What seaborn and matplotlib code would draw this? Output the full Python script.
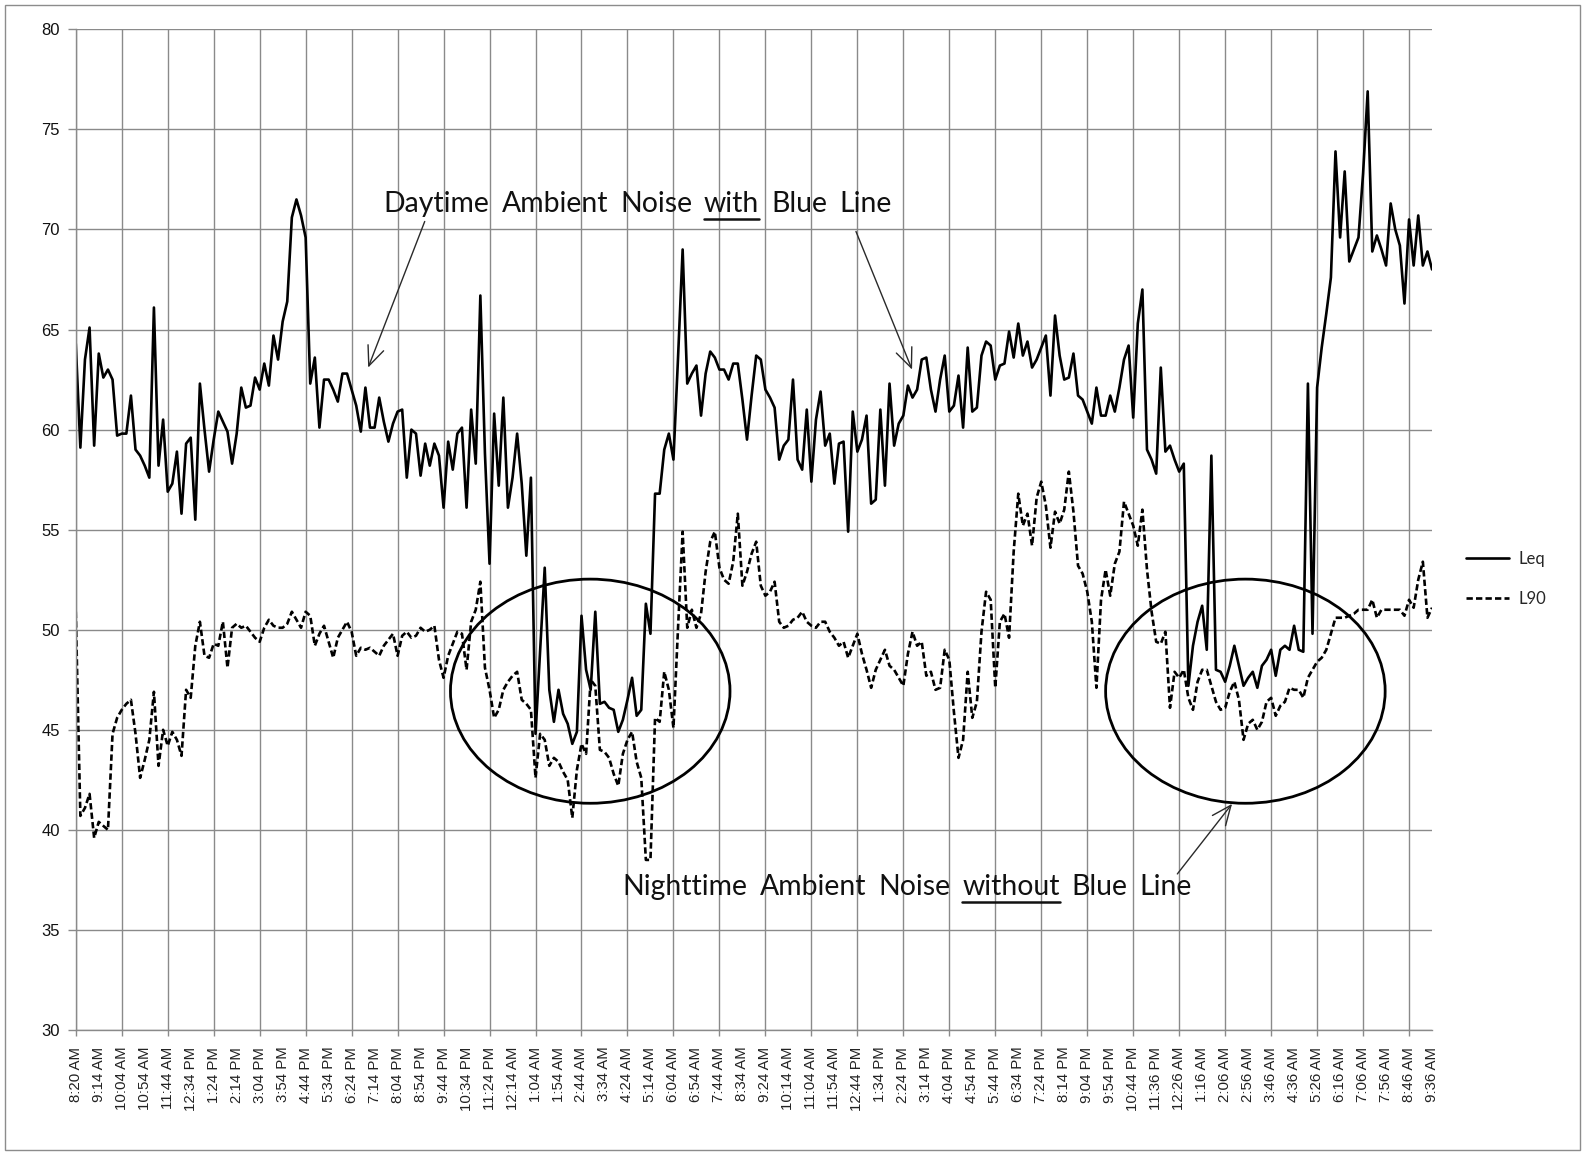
import numpy as np
import pandas as pd
import matplotlib
matplotlib.use("Agg")
import matplotlib.pyplot as plt
import matplotlib.transforms as mtransforms
import seaborn as sns
from matplotlib.patches import Ellipse, Rectangle
from matplotlib.lines import Line2D

# Category labels (one every 5 samples)
time_labels = [
    "8:20 AM", "9:14 AM", "10:04 AM", "10:54 AM", "11:44 AM", "12:34 PM", "1:24 PM", "2:14 PM",
    "3:04 PM", "3:54 PM", "4:44 PM", "5:34 PM", "6:24 PM", "7:14 PM", "8:04 PM", "8:54 PM",
    "9:44 PM", "10:34 PM", "11:24 PM", "12:14 AM", "1:04 AM", "1:54 AM", "2:44 AM", "3:34 AM",
    "4:24 AM", "5:14 AM", "6:04 AM", "6:54 AM", "7:44 AM", "8:34 AM", "9:24 AM", "10:14 AM",
    "11:04 AM", "11:54 AM", "12:44 PM", "1:34 PM", "2:24 PM", "3:14 PM", "4:04 PM", "4:54 PM",
    "5:44 PM", "6:34 PM", "7:24 PM", "8:14 PM", "9:04 PM", "9:54 PM", "10:44 PM", "11:36 PM",
    "12:26 AM", "1:16 AM", "2:06 AM", "2:56 AM", "3:46 AM", "4:36 AM", "5:26 AM", "6:16 AM",
    "7:06 AM", "7:56 AM", "8:46 AM", "9:36 AM",
]

# Equivalent continuous level, dB
leq = [
    64.3, 59.1, 63.5, 65.1, 59.2, 63.8, 62.6, 63.0, 62.5, 59.7,
    59.8, 59.8, 61.7, 59.0, 58.7, 58.2, 57.6, 66.1, 58.2, 60.5,
    56.9, 57.3, 58.9, 55.8, 59.3, 59.6, 55.5, 62.3, 60.0, 57.9,
    59.5, 60.9, 60.4, 59.9, 58.3, 59.8, 62.1, 61.1, 61.2, 62.6,
    62.0, 63.3, 62.2, 64.7, 63.5, 65.4, 66.4, 70.6, 71.5, 70.7,
    69.6, 62.3, 63.6, 60.1, 62.5, 62.5, 62.0, 61.4, 62.8, 62.8,
    62.0, 61.2, 59.9, 62.1, 60.1, 60.1, 61.6, 60.4, 59.4, 60.3,
    60.9, 61.0, 57.6, 60.0, 59.8, 57.7, 59.3, 58.2, 59.3, 58.7,
    56.1, 59.4, 58.0, 59.8, 60.1, 56.1, 61.0, 58.3, 66.7, 58.8,
    53.3, 60.8, 57.2, 61.6, 56.1, 57.6, 59.8, 57.3, 53.7, 57.6,
    44.8, 49.0, 53.1, 47.0, 45.4, 47.0, 45.8, 45.3, 44.3, 44.9,
    50.7, 48.0, 47.0, 50.9, 46.3, 46.4, 46.1, 46.0, 44.9, 45.5,
    46.5, 47.6, 45.7, 46.0, 51.3, 49.8, 56.8, 56.8, 59.0, 59.8,
    58.5, 63.6, 69.0, 62.3, 62.8, 63.2, 60.7, 62.8, 63.9, 63.6,
    63.0, 63.0, 62.5, 63.3, 63.3, 61.5, 59.5, 61.7, 63.7, 63.5,
    62.0, 61.6, 61.1, 58.5, 59.2, 59.5, 62.5, 58.5, 58.0, 61.0,
    57.4, 60.5, 61.9, 59.2, 59.8, 57.3, 59.3, 59.4, 54.9, 60.9,
    58.9, 59.5, 60.7, 56.3, 56.5, 61.0, 57.2, 62.3, 59.2, 60.3,
    60.7, 62.2, 61.6, 62.0, 63.5, 63.6, 62.0, 60.9, 62.5, 63.7,
    60.9, 61.2, 62.7, 60.1, 64.1, 60.9, 61.1, 63.7, 64.4, 64.2,
    62.5, 63.2, 63.3, 64.9, 63.6, 65.3, 63.7, 64.4, 63.1, 63.5,
    64.1, 64.7, 61.7, 65.7, 63.7, 62.5, 62.6, 63.8, 61.7, 61.5,
    60.9, 60.3, 62.1, 60.7, 60.7, 61.7, 60.9, 62.1, 63.5, 64.2,
    60.6, 65.3, 67.0, 59.0, 58.5, 57.8, 63.1, 58.9, 59.2, 58.5,
    57.9, 58.3, 47.2, 49.2, 50.4, 51.2, 49.0, 58.7, 48.0, 47.9,
    47.4, 48.2, 49.2, 48.2, 47.2, 47.6, 47.9, 47.1, 48.2, 48.5,
    49.0, 47.7, 49.0, 49.2, 49.0, 50.2, 49.0, 48.9, 62.3, 49.8,
    62.1, 64.1, 65.8, 67.6, 73.9, 69.6, 72.9, 68.4, 69.0, 69.6,
    72.8, 76.9, 68.9, 69.7, 69.0, 68.2, 71.3, 70.0, 69.2, 66.3,
    70.5, 68.2, 70.7, 68.2, 68.9, 68.0,
]

# Level exceeded 90% of the time, dB
l90 = [
    50.9, 40.7, 41.1, 41.8, 39.6, 40.4, 40.2, 40.0, 44.8, 45.6,
    46.0, 46.3, 46.5, 44.8, 42.6, 43.5, 44.5, 46.9, 43.2, 45.0,
    44.2, 44.9, 44.5, 43.7, 47.0, 46.6, 49.2, 50.4, 48.7, 48.6,
    49.3, 49.2, 50.4, 48.1, 50.1, 50.3, 50.1, 50.2, 49.9, 49.6,
    49.4, 50.1, 50.5, 50.2, 50.1, 50.1, 50.3, 50.9, 50.5, 50.1,
    50.9, 50.7, 49.2, 49.8, 50.2, 49.4, 48.6, 49.6, 50.0, 50.4,
    49.9, 48.7, 49.1, 49.0, 49.1, 48.9, 48.7, 49.2, 49.5, 49.8,
    48.7, 49.7, 49.9, 49.6, 49.7, 50.1, 49.9, 50.0, 50.2, 48.5,
    47.6, 48.7, 49.3, 49.9, 49.8, 48.0, 50.4, 51.0, 52.4, 48.1,
    47.0, 45.6, 46.0, 47.0, 47.4, 47.7, 47.9, 46.5, 46.3, 46.0,
    42.6, 44.8, 44.5, 43.2, 43.6, 43.4, 42.9, 42.5, 40.6, 43.0,
    44.3, 43.8, 47.5, 47.2, 44.0, 43.9, 43.6, 42.8, 42.2, 43.8,
    44.5, 44.9, 43.4, 42.6, 38.5, 38.5, 45.6, 45.4, 47.9, 47.0,
    45.1, 50.1, 54.9, 50.1, 51.0, 50.1, 50.8, 52.9, 54.4, 54.9,
    53.1, 52.5, 52.3, 53.4, 55.8, 52.2, 52.9, 53.8, 54.4, 52.2,
    51.7, 51.9, 52.4, 50.4, 50.1, 50.2, 50.5, 50.6, 50.9, 50.4,
    50.2, 50.1, 50.4, 50.4, 49.9, 49.6, 49.2, 49.4, 48.6, 49.2,
    49.8, 48.8, 48.0, 47.1, 48.0, 48.5, 49.0, 48.2, 48.0, 47.6,
    47.2, 48.8, 49.9, 49.2, 49.4, 47.7, 47.9, 47.0, 47.1, 49.0,
    48.5, 45.9, 43.6, 44.5, 47.9, 45.6, 46.4, 49.9, 51.9, 51.5,
    47.1, 50.4, 50.8, 49.6, 53.9, 56.8, 55.2, 55.8, 54.2, 56.6,
    57.4, 56.2, 54.1, 55.9, 55.3, 56.0, 57.9, 55.9, 53.2, 52.8,
    51.9, 50.4, 47.1, 51.5, 53.0, 51.7, 53.3, 53.9, 56.4, 55.8,
    55.2, 54.2, 56.0, 53.0, 50.9, 49.4, 49.3, 49.9, 46.1, 47.9,
    47.6, 48.0, 46.6, 46.0, 47.4, 48.0, 48.0, 47.2, 46.4, 46.0,
    46.1, 46.9, 47.4, 46.5, 44.5, 45.3, 45.5, 45.0, 45.4, 46.4,
    46.6, 45.7, 46.2, 46.4, 47.1, 47.0, 47.0, 46.6, 47.6, 48.0,
    48.4, 48.6, 49.0, 49.8, 50.6, 50.6, 50.6, 50.7, 50.8, 51.0,
    51.0, 51.0, 51.5, 50.6, 51.0, 51.0, 51.0, 51.0, 51.0, 50.7,
    51.5, 51.1, 52.5, 53.4, 50.6, 51.1,
]

series_names = ["Leq", "L90"]

GRID = "#8a8a8a"
LW = 1.9
DASH = (2.4, 1.2)

sns.set_theme(style="white")
plt.rcParams["font.family"] = ["Liberation Sans", "DejaVu Sans"]

fig = plt.figure(figsize=(15.85, 11.55), dpi=100)
ax = fig.add_axes([0.0478, 0.1082, 0.9035 - 0.0478, 0.9746 - 0.1082])

n = len(leq)
sample = np.arange(n)
df = pd.DataFrame({
    "sample": np.concatenate([sample, sample]),
    "level": np.array(leq + l90),
    "series": [series_names[0]] * n + [series_names[1]] * n,
})
sns.lineplot(data=df, x="sample", y="level", style="series",
             dashes={"Leq": "", "L90": DASH}, color="black",
             linewidth=LW, ax=ax, legend=False)

ax.set_xlim(0, n - 1)
ax.set_ylim(30, 80)
ax.set_xlabel("")
ax.set_ylabel("")

# Gridlines every 10 samples, labels every 5
ax.set_xticks(np.arange(0, n, 10))
ax.set_xticklabels([])
ax.xaxis.remove_overlapping_locs = False
ax.set_xticks(np.arange(0, n, 5)[:len(time_labels)], minor=True)
ax.set_xticklabels(time_labels, minor=True, rotation=90, fontsize=10.8,
                   family=["Liberation Sans"], color="#222222")
ax.set_yticks(np.arange(30, 81, 5))
ax.set_yticklabels([str(v) for v in range(30, 81, 5)], fontsize=12,
                   family=["Liberation Sans"], color="#111111")

ax.grid(True, which="major", color=GRID, linewidth=1.0)
ax.grid(False, which="minor")
ax.set_axisbelow(True)
ax.tick_params(axis="x", which="major", direction="out", length=4, width=1,
               color=GRID, bottom=True)
ax.tick_params(axis="x", which="minor", length=0, pad=12, bottom=True)
ax.tick_params(axis="y", which="major", direction="out", length=5.5, width=1,
               color=GRID, left=True, pad=6)
for side in ("top", "right"):
    ax.spines[side].set_visible(False)
for side in ("left", "bottom"):
    ax.spines[side].set_color(GRID)
    ax.spines[side].set_linewidth(1.0)

# Highlight ellipses
for cx in (111.9, 254.4):
    ax.add_patch(Ellipse((cx, 46.93), 60.8, 11.2, fill=False, lw=2.0,
                         ec="black", zorder=5, clip_on=False))

arrow_kw = dict(arrowstyle="->,head_length=0.7,head_width=0.3", color="#2a2a2a",
                lw=1.0, mutation_scale=20, shrinkA=0, shrinkB=0)
ax.annotate("", xy=(63.6, 63.1), xytext=(75.9, 70.4), arrowprops=arrow_kw)
ax.annotate("", xy=(181.9, 63.0), xytext=(169.7, 69.9), arrowprops=arrow_kw)
ax.annotate("", xy=(251.5, 41.3), xytext=(239.6, 37.8), arrowprops=arrow_kw)

# Phrases with one underlined word
fig.canvas.draw()
renderer = fig.canvas.get_renderer()
ident = mtransforms.IdentityTransform()


def phrase(x, y, parts, size=20.4):
    xd, yd = ax.transData.transform((x, y))
    gap = size * 0.42 * fig.dpi / 72.0
    for word, under in parts:
        t = ax.text(xd, yd, word, transform=ident, fontsize=size,
                    family=["Lato", "DejaVu Sans"], color="#111111",
                    ha="left", va="center", zorder=6)
        bb = t.get_window_extent(renderer)
        if under:
            uy = bb.y0 - 1.5
            ax.add_line(Line2D([bb.x0, bb.x1], [uy, uy], transform=ident,
                               color="#111111", lw=1.8, zorder=6))
        xd = bb.x1 + gap


phrase(67.0, 71.27, [("Daytime", False), ("Ambient", False), ("Noise", False),
                     ("with", True), ("Blue", False), ("Line", False)])
phrase(119.0, 37.14, [("Nighttime", False), ("Ambient", False), ("Noise", False),
                      ("without", True), ("Blue", False), ("Line", False)])

handles = [Line2D([0], [0], color="black", lw=LW),
           Line2D([0], [0], color="black", lw=LW, linestyle=(0, DASH))]
ax.legend(handles, series_names, loc="center left",
          bbox_to_anchor=(1466 / 1585, 0.4987), bbox_transform=fig.transFigure,
          frameon=False, handlelength=2.6, handletextpad=0.55, labelspacing=1.45,
          borderpad=0, borderaxespad=0,
          prop={"family": ["Lato", "DejaVu Sans"], "size": 12})

# Chart-area border
fig.patches.append(Rectangle((0.003, 0.004), 0.994, 0.992, transform=fig.transFigure,
                             fill=False, ec="#8c8c8c", lw=1.0))

fig.savefig("out.png", dpi=100)
